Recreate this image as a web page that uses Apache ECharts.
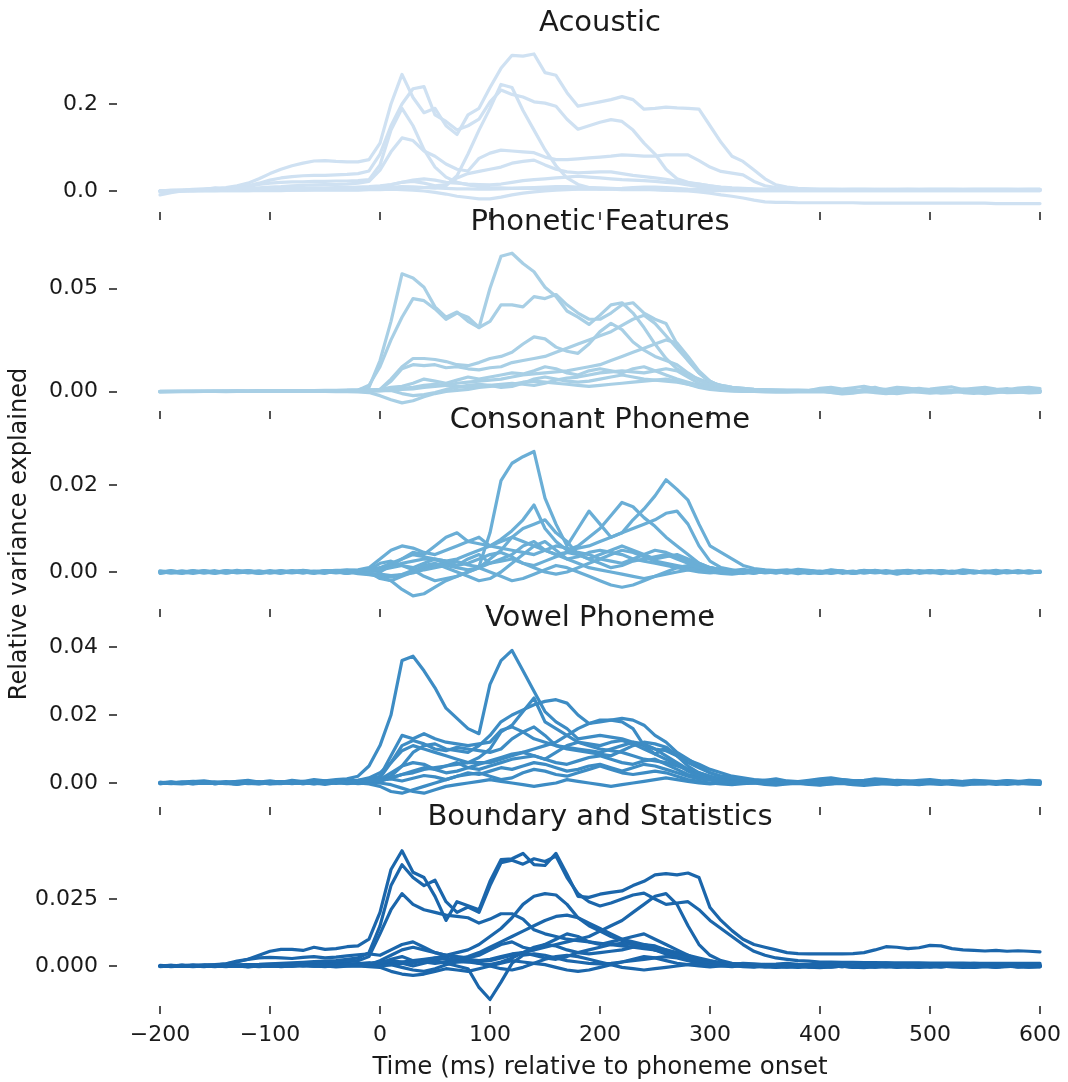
<!DOCTYPE html>
<html>
<head>
<meta charset="utf-8">
<script src="https://cdn.jsdelivr.net/npm/echarts@6.0.0/dist/echarts.min.js"></script>
<style>
html,body{margin:0;padding:0;background:#fff;}
#chart{width:1068px;height:1082px;}
</style>
</head>
<body>
<div id="chart"></div>
<script>
// Sample times (ms relative to phoneme onset), one value every 10 ms
const timeMs = [
 -200,-190,-180,-170,-160,-150,-140,-130,-120,-110,
 -100,-90,-80,-70,-60,-50,-40,-30,-20,-10,
 0,10,20,30,40,50,60,70,80,90,
 100,110,120,130,140,150,160,170,180,190,
 200,210,220,230,240,250,260,270,280,290,
 300,310,320,330,340,350,360,370,380,390,
 400,410,420,430,440,450,460,470,480,490,
 500,510,520,530,540,550,560,570,580,590,
 600];

// Acoustic traces, stored in thousandths of relative variance explained
const ACOUSTIC_UNIT = 1e-3;
const acoustic1 = [0,2,2,4,5,6,8,12,18,28, 40,50,58,64,69,70,68,67,67,72, 110,200,268,215,180,190,150,130,175,190, 238,282,312,310,315,272,266,226,195,200, 205,210,217,210,188,190,193,191,190,188, 150,112,80,68,48,28,14,9,6,5, 4,4,3,4,4,3,4,4,4,3, 4,4,4,3,4,4,4,4,3,4, 4];
const acoustic2 = [0,1,2,2,3,4,5,8,12,18, 25,30,33,35,36,36,37,38,40,46, 85,150,200,235,240,175,160,140,150,165, 205,232,222,216,205,202,195,165,142,150, 158,164,160,140,110,85,50,28,20,16, 12,9,7,6,5,4,4,3,3,3, 3,3,3,2,3,3,3,3,2,3, 3,3,3,3,2,3,3,3,3,3, 3];
const acoustic3 = [0,0,1,1,1,1,2,2,2,3, 3,3,3,4,4,4,5,5,5,6, 7,8,9,9,8,7,12,35,85,140, 190,245,238,185,140,95,58,30,15,8, 5,4,3,3,3,3,2,2,2,2, 2,2,2,1,1,1,1,1,1,1, 1,1,1,1,1,1,1,1,1,1, 1,1,1,1,1,1,1,1,1,1, 1];
const acoustic4 = [0,1,1,2,2,3,4,6,10,15, 18,20,21,21,22,22,23,23,24,26, 60,140,190,150,95,55,32,20,14,10, 8,7,6,6,6,5,5,5,5,5, 5,5,4,4,4,4,4,4,4,4, 4,3,3,3,3,3,3,3,3,3, 3,3,3,3,3,3,3,3,3,3, 3,2,3,3,3,3,3,2,3,3, 3];
const acoustic5 = [0,0,1,1,2,2,3,4,5,7, 9,10,12,13,14,15,15,16,18,22, 48,90,122,116,92,80,62,50,46,75, 87,94,92,90,88,78,72,72,74,76, 78,80,83,82,80,80,83,83,83,70, 55,45,41,37,22,12,8,6,5,4, 4,4,4,4,4,4,4,3,4,4, 4,4,4,4,4,4,4,4,4,4, 4];
const acoustic6 = [1,1,1,2,2,2,2,3,3,3, 4,4,4,5,5,5,5,6,6,7, 10,14,20,22,18,12,15,30,40,45, 50,55,64,68,71,60,50,44,42,43, 44,44,40,36,33,30,27,22,18,16, 12,8,6,5,4,4,4,4,4,4, 4,4,4,4,4,4,3,4,4,4, 4,4,4,4,4,4,4,4,4,4, 4];
const acoustic7 = [-2,-1,0,0,1,1,1,1,1,2, 2,2,2,2,3,3,3,3,3,4, 5,8,10,9,8,7,6,5,5,4, 4,5,6,7,8,9,10,10,9,8, 7,6,5,5,4,3,2,1,0,-2, -5,-9,-12,-16,-21,-25,-26,-26,-27,-27, -27,-27,-27,-27,-28,-28,-28,-28,-28,-28, -28,-28,-28,-28,-28,-28,-29,-29,-29,-29, -29];
const acoustic8 = [0,0,0,1,1,1,1,1,1,1, 1,1,2,2,2,2,2,2,2,3, 3,4,3,2,0,-3,-7,-12,-15,-18, -18,-14,-9,-5,-2,0,2,3,4,4, 4,5,6,8,9,9,8,6,4,3, 2,1,1,1,1,1,1,1,1,1, 1,1,1,1,1,1,1,1,1,1, 1,1,1,1,1,1,1,1,1,1, 1];
const acoustic9 = [-9,-4,0,2,3,7,3,5,8,4, 5,5,6,6,7,7,8,8,9,10, 12,15,20,25,28,25,20,18,16,15, 14,16,20,24,26,28,30,32,34,32, 30,28,26,25,24,22,20,18,14,10, 8,6,5,4,3,3,2,2,2,2, 2,2,2,2,2,2,2,2,2,2, 2,2,2,2,2,2,2,2,2,2, 2];

// Phonetic feature traces, stored in units of 1e-4
const PHONETIC_UNIT = 1e-4;
const phonetic1 = [0,0,1,0,1,1,0,1,1,2, 2,2,3,3,3,4,4,5,8,20, 150,340,570,550,505,410,360,385,340,310, 500,655,670,620,580,505,460,390,360,325, 370,420,430,380,310,230,160,110,80,60, 40,30,20,15,10,8,6,5,5,4, 10,15,8,-5,12,20,5,0,10,15, 8,-3,5,12,6,0,8,14,5,2, 6];
const phonetic2 = [0,1,0,1,1,1,1,2,1,2, 2,2,3,3,3,4,4,5,6,30, 120,250,360,450,440,400,350,380,360,310, 340,420,420,410,460,450,470,420,380,350, 350,380,420,430,380,350,330,230,150,90, 45,30,20,15,10,8,7,6,6,5, 5,-5,-12,-8,0,5,-6,-10,-3,4, 0,-8,-5,2,-4,-10,-6,0,-2,-7, -4];
const phonetic3 = [0,0,0,0,1,0,1,1,1,1, 1,1,1,2,2,2,2,2,3,4, 10,60,120,160,160,155,145,130,125,140, 160,170,190,230,265,255,215,195,185,230, 290,330,300,240,200,170,150,130,90,55, 30,15,10,8,6,5,5,4,4,4, 4,4,4,3,3,3,3,3,3,3, 3,3,3,3,3,3,3,3,3,3, 3];
const phonetic4 = [0,1,1,0,1,1,1,1,1,2, 2,2,2,2,3,3,3,3,4,5, 10,50,110,130,125,130,115,120,110,105, 115,120,140,150,160,170,190,210,230,250, 270,290,320,350,370,330,270,210,150,90, 50,25,15,10,8,6,5,5,5,4, 15,20,12,18,25,14,10,20,16,8, 12,18,22,10,15,20,12,8,16,20, 14];
const phonetic5 = [0,0,0,1,0,0,1,1,1,1, 1,1,1,1,2,2,2,2,2,3, 4,8,10,12,20,25,30,40,45,50, 55,60,70,80,85,90,95,100,110,120, 130,150,170,190,210,230,250,235,170,100, 50,25,12,8,6,5,5,4,4,4, 4,4,4,3,3,3,3,3,3,3, 3,3,3,3,3,3,3,3,3,3, 3];
const phonetic6 = [1,0,1,1,0,1,1,2,1,2, 2,3,2,3,3,4,4,5,6,8, 10,20,25,40,60,50,40,55,70,60, 70,80,90,85,100,120,110,90,80,100, 110,100,90,110,120,100,80,60,45,30, 20,12,8,6,5,5,4,4,4,4, 3,-4,-8,-2,3,-6,-10,-5,0,-3, -8,-4,2,-5,-9,-3,0,-6,-4,2, -2];
const phonetic7 = [-3,-2,-1,-1,0,0,-1,0,0,0, 0,0,0,0,0,0,-1,-1,-2,-5, -20,-40,-55,-45,-25,-10,0,5,10,20, 25,30,35,45,50,45,40,35,30,25, 30,35,40,45,50,55,60,50,35,20, 10,5,2,0,0,-2,-3,-3,-2,-2, -2,-2,-2,-2,-2,-2,-1,-1,-1,-1, -1,-1,-1,-1,-1,-1,-1,-1,-1,-1, -1];
const phonetic8 = [1,1,1,1,1,2,2,2,2,3, 3,3,4,4,4,5,5,6,6,7, 8,10,15,20,30,35,30,25,20,25, 30,35,40,35,30,40,55,65,70,80, 90,95,100,95,90,100,110,100,70,40, 20,10,5,3,2,2,2,2,2,2, 2,2,2,2,2,1,2,2,2,2, 2,2,2,2,2,2,2,2,2,2, 2];
const phonetic9 = [0,0,0,1,1,1,1,1,1,1, 1,1,1,1,1,2,2,2,2,2, 3,5,-10,-20,-15,-5,10,20,30,35, 30,20,25,40,60,70,60,50,45,50, 60,70,80,70,60,55,50,45,35,25, 15,8,5,3,3,2,2,2,2,2, 2,2,2,2,2,2,2,2,2,2, 2,2,2,2,2,2,2,2,2,2, 2];

// Consonant phoneme traces, units of 1e-4
const CONSONANT_UNIT = 1e-4;
const consonant1 = [0,-2,-1,0,3,-1,0,4,0,-3, 0,3,0,-2,2,0,3,4,0,-4, -8,-12,-6,4,10,16,20,24,16,12, 90,210,250,265,277,170,110,60,100,140, 110,80,90,120,145,175,212,190,165,110, 60,45,30,15,8,5,3,2,6,4, 0,5,2,-3,0,4,0,-5,0,3, 0,-4,0,5,2,0,-4,0,3,0, 0];
const consonant2 = [2,0,-3,1,0,-2,3,0,-1,2, 0,-3,2,0,-2,3,1,-3,2,5, 0,15,30,45,40,60,80,90,70,80, 60,75,95,120,154,100,70,50,60,80, 100,130,160,150,125,105,80,60,40,20, 10,5,3,2,1,0,-2,3,1,-3, 0,2,-3,0,4,1,-2,0,3,-1, 2,0,-3,1,0,2,-2,0,1,-2, 0];
const consonant3 = [-3,1,0,2,-2,0,3,-1,0,2, -2,0,3,1,-1,2,0,-3,1,4, 8,12,20,25,30,28,20,15,30,40, 20,30,40,60,70,50,40,45,55,60, 70,80,90,100,110,120,135,140,110,60, 25,10,5,0,-3,2,0,-2,3,0, -3,0,2,-2,0,3,-1,0,2,-3, 0,3,0,-2,1,0,2,-2,0,2, 0];
const consonant4 = [1,-2,0,3,0,-3,1,0,2,-1, 3,0,-2,1,0,-3,2,0,-1,-3, -5,-8,-6,-2,5,10,15,10,5,10, 30,50,80,100,110,120,90,70,40,30, 40,50,60,50,40,30,35,40,30,20, 10,5,0,-3,0,4,1,-2,0,3, 1,-3,0,2,-2,0,3,0,-2,1, 3,0,-2,0,2,-1,0,3,-2,0, 1];
const consonant5 = [-2,0,2,-1,0,3,-2,0,1,-3, 0,2,-1,0,-3,1,-2,0,-4,-6, -10,-20,-40,-55,-50,-35,-20,-10,0,10, 20,25,30,20,10,0,-5,0,10,20, 30,40,50,45,35,25,20,15,10,5, 0,-3,-5,-2,0,2,-2,0,-4,0, 2,-1,0,-3,0,2,0,-2,1,0, -2,0,1,-3,0,2,0,-1,0,2, -1];
const consonant6 = [0,3,-1,0,2,0,-2,1,3,0, -1,2,0,4,1,0,2,5,3,6, 10,20,30,40,35,30,25,30,40,50, 60,55,50,45,40,50,60,55,45,40, 30,25,20,30,40,50,45,35,25,15, 10,5,3,6,2,0,3,5,1,-2, 0,4,2,-1,3,0,-2,2,4,0, -1,3,0,2,-2,1,4,0,-1,2, 0];
const consonant7 = [1,0,-2,2,0,-1,0,2,-2,0, 1,-2,0,2,-1,0,1,-2,0,3, 5,10,15,5,-10,-20,-15,-10,0,10, 0,-10,-20,-15,-5,5,15,10,0,-10, -20,-30,-35,-30,-20,-10,0,10,15,10, 5,0,-3,0,2,-2,0,3,-1,0, -3,0,1,-2,0,2,-1,0,-3,0, 2,0,-2,0,1,-1,0,2,0,-2, 0];
const consonant8 = [0,-1,2,0,-2,1,0,-1,2,0, -2,1,0,3,0,2,4,3,5,10, 30,50,60,55,45,40,50,60,70,65, 60,70,80,70,60,50,40,30,35,45, 50,45,40,30,25,20,15,10,5,0, -2,0,3,1,-2,0,2,0,-1,2, 0,-2,1,0,3,0,-2,1,0,-1, 2,0,-1,2,0,-2,0,1,-1,0, 2];
const consonant9 = [-1,2,0,-3,1,0,2,-2,0,1, -1,0,2,-2,1,3,0,-2,1,0, -15,-20,-10,0,15,20,10,0,-10,-20, -15,0,20,40,60,70,50,30,20,10, 5,0,-5,-10,-15,-10,-5,0,5,10, 8,4,2,0,-2,1,-1,0,2,-2, 0,2,-1,0,-2,0,1,-1,2,0, -1,0,2,0,-2,1,0,-1,0,1, -1];
const consonant10 = [2,0,1,-1,2,0,-2,0,2,1, 0,-1,1,2,0,-2,2,0,3,5, 20,25,15,10,20,30,25,15,20,30, 40,45,35,20,15,25,35,45,40,30, 20,10,15,25,30,35,40,30,20,10, 5,2,0,3,-1,2,0,-2,1,3, 0,-1,2,0,1,-2,0,2,-1,0, 1,2,0,-2,0,1,-1,2,0,-1, 1];

// Vowel phoneme traces, units of 1e-4
const VOWEL_UNIT = 1e-4;
const vowel1 = [0,3,0,4,6,2,0,5,8,3, 6,2,8,4,10,6,10,12,20,50, 110,200,360,373,330,280,220,190,160,145, 290,360,390,330,270,210,180,160,130,135, 140,135,130,120,110,100,95,80,60,45, 30,20,15,10,8,6,5,4,4,3, 3,5,4,3,2,4,5,3,2,3, 4,3,3,2,3,4,3,2,3,3, 3];
const vowel2 = [1,0,3,5,1,0,2,4,1,0, 2,4,1,5,2,6,3,7,8,15, 30,60,95,110,100,90,80,70,60,75, 100,150,170,210,250,180,160,140,120,110, 100,95,90,80,70,65,60,50,40,30, 20,12,8,6,5,4,3,3,2,2, 2,3,4,3,2,1,2,3,4,3, 2,2,3,4,3,2,2,3,3,2, 2];
const vowel3 = [-2,1,3,0,-1,2,4,1,-2,0, 3,1,-1,2,4,0,3,5,2,4, 5,20,50,90,110,115,100,95,90,110, 140,180,200,215,230,240,245,235,200,175, 185,185,180,160,110,85,105,80,68,55, 40,30,20,15,10,8,12,6,4,8, 12,15,10,6,8,12,10,6,4,8, 10,6,3,5,8,6,4,7,5,3, 4];
const vowel4 = [2,-1,0,3,1,-2,0,4,2,-1, 1,3,0,-1,2,5,3,0,4,6, 8,15,25,30,40,45,50,55,60,60, 60,70,80,90,100,110,120,140,160,175, 180,185,190,185,170,140,120,90,70,50, 30,20,15,10,8,5,6,4,2,4, -2,0,3,-1,-4,0,2,-3,0,2, -1,-3,0,2,-2,-3,1,0,-2,0, -1];
const vowel5 = [-1,2,0,-2,3,1,0,-3,2,4, 0,-2,3,1,-1,4,2,5,8,10, 20,80,140,130,145,130,120,115,110,115, 120,155,165,150,130,120,110,105,100,95, 90,100,110,120,115,100,80,60,40,25, 15,8,5,4,3,2,6,4,2,0, 3,5,2,0,4,6,3,1,5,2, 0,3,5,2,0,4,2,-1,3,1, 2];
const vowel6 = [1,3,-1,0,2,-2,1,3,0,-2, 2,4,0,3,1,-1,5,3,6,8, 15,60,110,125,115,100,95,105,100,95, 90,100,130,150,165,140,110,100,95,90, 85,80,95,110,120,115,105,80,50,30, 20,10,5,3,1,-2,-4,-1,0,-3, -5,-2,0,-4,-2,1,-3,-5,-1,0, -2,-4,-1,0,-3,-2,0,-4,-1,-2, -3];
const vowel7 = [0,-2,2,1,-1,3,0,-3,1,2, -2,1,3,0,-2,2,4,1,3,5, 10,30,50,60,55,40,50,60,45,40, 50,60,70,75,80,70,60,55,65,75, 80,70,60,55,65,70,55,40,25,15, 10,6,4,2,5,8,6,3,0,2, 5,8,10,7,4,2,5,8,6,4, 2,5,7,4,2,0,3,6,4,8, 6];
const vowel8 = [-2,0,1,-3,0,2,-1,-4,0,1, -3,-1,2,-2,0,-4,1,-2,0,-3, -10,-25,-30,-20,-10,0,10,20,25,30, 20,10,15,30,40,35,25,20,30,40, 50,40,30,25,30,35,30,20,10,5, 0,-3,-5,-2,0,-4,-6,-3,-1,-4, -6,-3,-1,-5,-7,-4,-2,0,-3,-5, -2,0,-4,-6,-3,-1,-4,-2,0,-3, -4];
const vowel9 = [1,-1,-3,0,2,-2,0,3,-1,-3, 0,2,-2,1,-3,0,-1,2,-2,0, 0,-5,-15,-25,-30,-20,-10,-5,0,5, 10,5,0,-5,-10,-5,0,10,5,0, -5,-10,-5,0,5,10,15,10,5,0, -3,0,2,-1,0,3,1,-2,0,2, 1,-2,0,3,1,-1,2,0,-3,1, 0,2,-1,0,3,1,-2,0,2,0, 1];
const vowel10 = [0,2,-1,1,3,0,-2,2,4,1, -1,3,1,-2,2,0,3,1,4,6, 5,15,25,35,45,40,30,35,45,55, 65,75,85,90,80,70,90,110,120,115, 110,120,125,115,100,85,70,55,35,20, 12,8,5,7,3,0,-2,1,3,0, -2,1,-1,2,0,-3,0,2,-1,1, 0,-2,1,0,2,-1,0,1,-2,0, 1];
const vowel11 = [2,0,1,3,-1,1,2,0,3,1, 2,0,4,2,0,3,5,2,6,7, 8,12,6,14,22,18,10,20,30,25, 35,45,40,50,60,55,45,35,40,50, 55,45,35,45,55,50,40,30,20,12, 8,5,3,0,2,4,1,-1,2,0, -1,2,4,1,-2,0,3,1,-1,2, 3,0,-2,1,3,2,0,-1,1,3, 2];

// Boundary and statistics traces, units of 1e-4
const BOUNDARY_UNIT = 1e-4;
const boundary1 = [0,1,2,2,3,5,8,15,25,40, 55,62,62,58,70,62,65,72,75,100, 200,360,430,350,330,260,170,240,225,210, 316,397,400,420,378,375,420,342,260,256, 268,275,280,300,316,340,345,340,347,330, 218,170,132,100,80,70,60,50,46,45, 45,45,45,46,50,60,72,70,65,68, 77,75,65,60,58,56,58,55,57,55, 53];
const boundary2 = [0,1,0,2,1,2,3,4,5,6, 8,10,12,14,16,18,20,25,30,50, 150,300,378,330,300,320,240,200,220,200, 300,385,395,380,400,390,410,330,270,240, 224,235,250,265,272,250,230,235,240,210, 170,140,110,80,55,40,30,25,20,18, 15,15,14,14,13,13,12,12,12,12, 11,11,11,11,10,10,10,10,10,10, 10];
const boundary3 = [0,1,2,1,2,3,2,3,4,5, 6,7,8,9,10,12,14,16,20,35, 120,210,270,230,210,200,190,185,180,160, 175,195,195,175,135,120,110,100,95,90, 85,80,75,70,65,60,55,45,35,25, 18,12,8,6,5,4,4,3,3,3, 3,2,2,3,2,2,2,2,3,2, 2,2,2,2,2,2,2,2,2,2, 2];
const boundary4 = [1,-2,0,2,-1,0,3,1,-2,0, 2,-1,1,3,0,2,4,3,6,5, 5,10,15,20,25,30,40,50,60,80, 110,140,180,230,260,270,265,230,180,150, 130,110,95,85,75,60,45,35,25,15, 10,6,4,2,0,-3,-5,-2,0,-4, -6,-3,-1,-5,-3,0,-2,-5,-3,-1, -4,-2,0,-3,-5,-2,-4,-1,-3,-2, -3];
const boundary5 = [-1,0,2,0,-2,1,3,0,2,4, 1,3,6,4,2,5,8,6,9,12, 0,5,10,20,15,10,15,25,35,50, 70,90,110,130,150,170,185,190,180,160, 140,120,100,90,80,70,60,50,40,30, 20,12,8,5,3,6,4,2,5,3, 1,4,2,0,3,1,-1,2,4,1, 3,0,2,4,1,-1,2,0,3,1, 2];
const boundary6 = [0,-1,0,1,0,-1,0,1,0,1, 2,1,3,2,4,5,6,5,8,10, 15,20,10,0,10,20,10,0,-10,-80, -125,-60,10,40,45,40,30,20,15,10, 8,10,15,20,25,30,35,30,20,10, 5,3,2,0,-2,1,3,0,-3,-1, 2,0,-2,1,-1,-4,0,2,-2,0, 1,-3,0,2,-1,0,-2,1,0,-1, 0];
const boundary7 = [2,0,-1,1,3,0,-2,1,0,2, -1,1,3,0,2,4,1,3,5,8, 10,20,15,10,20,30,25,15,15,20, 20,30,40,50,60,70,80,90,100,110, 130,150,170,200,230,260,270,230,150,80, 40,20,10,5,2,0,-3,0,2,-2, 0,-3,-1,1,-2,0,2,-1,-3,0, -2,0,1,-2,0,-1,-3,0,-2,0, -1];
const boundary8 = [1,2,1,3,2,3,8,18,25,30, 32,30,28,32,35,30,33,38,42,45, 40,60,80,90,70,50,40,35,30,40, 60,80,90,70,60,80,100,120,110,90, 80,90,100,110,120,100,80,60,40,20, 10,5,3,6,2,4,1,3,5,2, 4,6,3,1,5,3,0,2,4,1, 3,5,2,0,4,2,5,3,1,4, 2];
const boundary9 = [-1,1,0,-2,0,2,-1,0,-3,0, 1,-2,0,2,-1,0,-3,-1,0,-2, -5,-20,-30,-35,-30,-20,-10,-15,-20,-10, 0,10,20,15,10,5,-5,-15,-20,-15, -5,5,15,25,35,30,20,10,5,0, -3,0,2,-2,-4,-1,0,-3,-5,-2, 0,-3,-1,-4,-6,-2,0,-3,-1,-4, -2,0,-3,-5,-2,-1,-4,-2,0,-3, -2];
const boundary10 = [0,2,-1,1,0,-2,2,0,1,3, 0,2,4,1,3,5,2,6,8,10, 10,25,35,20,15,25,30,20,15,10, 5,15,30,50,70,80,75,60,50,45, 50,55,60,70,80,75,60,45,30,15, 8,4,6,10,8,5,7,10,6,4, 8,10,7,4,6,9,12,8,5,7, 9,6,4,7,10,8,5,6,9,7, 5];
const boundary11 = [1,0,2,-1,1,3,0,2,-1,0, 2,1,-1,3,0,2,1,4,3,6, 20,40,60,70,60,50,40,30,25,20, 25,35,45,50,40,30,25,35,50,60, 70,80,85,80,70,60,50,40,30,20, 12,8,5,3,1,0,-2,-4,-1,-3, -5,-2,0,-3,-1,-4,-2,0,-3,-5, -1,-3,0,-2,-4,-1,-3,0,-2,-4, -1];
const boundary12 = [-2,0,1,-1,2,0,-1,1,0,-2, 0,1,-1,2,0,-2,1,0,2,-1, 0,5,-5,-15,-20,-10,5,15,20,10, 0,-10,-15,-5,10,25,35,40,35,25, 15,5,-5,-10,-15,-10,-5,0,5,5, 3,0,-2,1,-1,-3,0,2,-2,0, -1,1,-2,0,2,-1,-3,0,1,-2, 0,-1,2,0,-2,1,-1,0,-3,0, -1];

// Panel definitions: title, traces, unit, colour and the y values that get a tick label
const panels = [
  {title:'Acoustic', unit:ACOUSTIC_UNIT, color:'#cfe1f2', yTicks:[0,0.2], decimals:1,
   traces:[acoustic1,acoustic2,acoustic3,acoustic4,acoustic5,acoustic6,acoustic7,acoustic8,acoustic9],
   zeroPx:191, pxPerUnit:435, bottomPx:212},
  {title:'Phonetic Features', unit:PHONETIC_UNIT, color:'#a8cfe5', yTicks:[0,0.05], decimals:2,
   traces:[phonetic1,phonetic2,phonetic3,phonetic4,phonetic5,phonetic6,phonetic7,phonetic8,phonetic9],
   zeroPx:391.5, pxPerUnit:2064, bottomPx:411},
  {title:'Consonant Phoneme', unit:CONSONANT_UNIT, color:'#6aaed6', yTicks:[0,0.02], decimals:2,
   traces:[consonant1,consonant2,consonant3,consonant4,consonant5,consonant6,consonant7,consonant8,consonant9,consonant10],
   zeroPx:572, pxPerUnit:4350, bottomPx:609},
  {title:'Vowel Phoneme', unit:VOWEL_UNIT, color:'#3d8cc4', yTicks:[0,0.02,0.04], decimals:2,
   traces:[vowel1,vowel2,vowel3,vowel4,vowel5,vowel6,vowel7,vowel8,vowel9,vowel10,vowel11],
   zeroPx:783, pxPerUnit:3400, bottomPx:807},
  {title:'Boundary and Statistics', unit:BOUNDARY_UNIT, color:'#1b66ab', yTicks:[0,0.025], decimals:3,
   traces:[boundary1,boundary2,boundary3,boundary4,boundary5,boundary6,boundary7,boundary8,boundary9,boundary10,boundary11,boundary12],
   zeroPx:966, pxPerUnit:2680, bottomPx:1006}
];

const FONT = '"DejaVu Sans", "Liberation Sans", sans-serif';
const INK = '#1a1a1a';
const PLOT_LEFT = 160, PLOT_RIGHT = 1040, PANEL_H = 165;

const grids = [], xAxes = [], yAxes = [], series = [], graphics = [];

panels.forEach((p, k) => {
  const top = p.bottomPx - PANEL_H;
  grids.push({left: PLOT_LEFT, width: PLOT_RIGHT - PLOT_LEFT, top: top, height: PANEL_H});
  const last = k === panels.length - 1;
  xAxes.push({
    type: 'value', gridIndex: k, min: -200, max: 600, interval: 100,
    axisLine: {show: false, onZero: false},
    axisTick: {show: true, length: 8, lineStyle: {color: INK, width: 1.5}},
    splitLine: {show: false},
    axisLabel: {
      show: last, margin: 18, color: INK, fontFamily: FONT, fontSize: 22,
      formatter: v => (v < 0 ? '\u2212' + Math.abs(v) : String(v))
    }
  });
  yAxes.push({
    type: 'value', gridIndex: k,
    min: -(p.bottomPx - p.zeroPx) / p.pxPerUnit,
    max: (p.zeroPx - top) / p.pxPerUnit,
    offset: 43,
    axisLine: {show: false, onZero: false},
    splitLine: {show: false},
    axisTick: {show: true, length: 8, customValues: p.yTicks, lineStyle: {color: INK, width: 1.5}},
    axisLabel: {
      show: true, margin: 19, color: INK, fontFamily: FONT, fontSize: 22,
      customValues: p.yTicks,
      formatter: v => v.toFixed(p.decimals)
    }
  });
  p.traces.forEach(tr => {
    series.push({
      type: 'line', xAxisIndex: k, yAxisIndex: k,
      data: timeMs.map((t, i) => [t, tr[i] * p.unit]),
      symbol: 'none', showSymbol: false, silent: true, clip: false,
      lineStyle: {color: p.color, width: 3.2, join: 'round', cap: 'round'},
      z: 2
    });
  });
  graphics.push({
    type: 'text', x: (PLOT_LEFT + PLOT_RIGHT) / 2, y: top - 24, z: 10,
    style: {
      text: p.title, font: '29px ' + FONT, fill: INK,
      textAlign: 'center', align: 'center', textVerticalAlign: 'middle', verticalAlign: 'middle'
    }
  });
});

graphics.push({
  type: 'text', x: (PLOT_LEFT + PLOT_RIGHT) / 2, y: 1068, z: 10,
  style: {text: 'Time (ms) relative to phoneme onset', font: '24.5px ' + FONT, fill: INK,
    textAlign: 'center', align: 'center', textVerticalAlign: 'middle', verticalAlign: 'middle'}
});
graphics.push({
  type: 'text', x: 20, y: 534, rotation: Math.PI / 2, z: 10,
  style: {text: 'Relative variance explained', font: '24px ' + FONT, fill: INK,
    textAlign: 'center', align: 'center', textVerticalAlign: 'middle', verticalAlign: 'middle'}
});

const chart = echarts.init(document.getElementById('chart'), null, {renderer: 'canvas'});
chart.setOption({
  animation: false,
  backgroundColor: '#fff',
  grid: grids,
  xAxis: xAxes,
  yAxis: yAxes,
  series: series,
  graphic: graphics
});
</script>
</body>
</html>
